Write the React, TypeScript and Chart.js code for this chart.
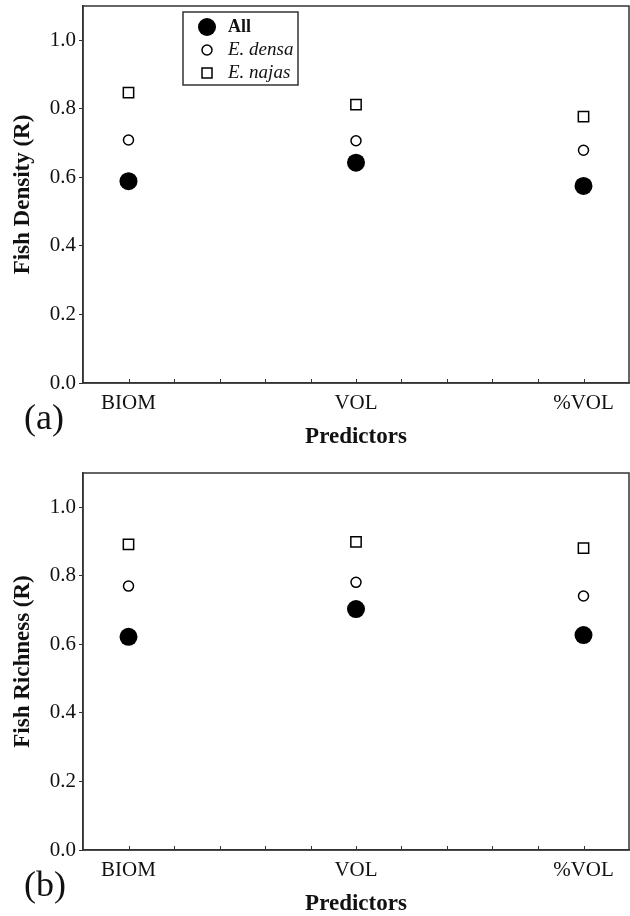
import React, { useEffect, useRef } from 'react';
import { Chart, registerables } from 'chart.js';

Chart.register(...registerables);

// ---- data ----
const categories = ['BIOM', 'VOL', '%VOL'];
const seriesNames = ['All', 'E. densa', 'E. najas'];
const densityAll = [0.589, 0.643, 0.575];
const densityDensa = [0.709, 0.707, 0.679];
const densityNajas = [0.847, 0.812, 0.777];
const richnessAll = [0.622, 0.703, 0.627];
const richnessDensa = [0.770, 0.781, 0.741];
const richnessNajas = [0.892, 0.899, 0.881];
const yTickValues = [0, 0.2, 0.4, 0.6, 0.8, 1.0];
const xMinorPerCategory = 5;

const SERIF = "'Liberation Serif', 'Times New Roman', serif";
const INK = '#111111';
const AXIS = '#333333';
const W = 630;
const H = 458;

type PanelOpts = {
  all: number[];
  densa: number[];
  najas: number[];
  yTitle: string;
  panelLabel: string;
  top: number;
  bottom: number;
  legend: boolean;
};

function xMinorTicks(): number[] {
  const out: number[] = [];
  const n = (categories.length - 1) * xMinorPerCategory;
  for (let i = 0; i <= n; i++) out.push(i / xMinorPerCategory);
  return out;
}

function toPoints(vals: number[]) {
  return categories.map((_, i) => ({ x: i, y: vals[i] }));
}

function makeConfig(o: PanelOpts): any {
  const overlay = {
    id: 'overlay' + o.panelLabel,
    afterDraw(chart: any) {
      const ctx = chart.ctx;
      const a = chart.chartArea;
      const xs = chart.scales.x;
      ctx.save();
      // frame
      ctx.strokeStyle = AXIS;
      ctx.lineWidth = 1.5;
      ctx.strokeRect(a.left, a.top, a.right - a.left, a.bottom - a.top);
      // inward x minor ticks
      ctx.lineWidth = 1;
      ctx.strokeStyle = AXIS;
      ctx.beginPath();
      xMinorTicks().forEach((v) => {
        const px = Math.round(xs.getPixelForValue(v)) + 0.5;
        ctx.moveTo(px, a.bottom);
        ctx.lineTo(px, a.bottom - 4);
      });
      ctx.stroke();
      // y title
      ctx.fillStyle = INK;
      ctx.font = `bold 23px ${SERIF}`;
      ctx.textAlign = 'center';
      ctx.textBaseline = 'middle';
      ctx.save();
      ctx.translate(23, (a.top + a.bottom) / 2);
      ctx.rotate(-Math.PI / 2);
      ctx.fillText(o.yTitle, 0, 0);
      ctx.restore();
      // x title
      ctx.font = `bold 23px ${SERIF}`;
      ctx.fillText('Predictors', (a.left + a.right) / 2, a.bottom + 54);
      // panel label
      ctx.font = `36px ${SERIF}`;
      ctx.textAlign = 'left';
      ctx.fillText(o.panelLabel, 24, a.bottom + 37);
      // legend
      if (o.legend) {
        const lx = a.left + 100;
        const ly = a.top + 6;
        const lw = 115;
        const lh = 73;
        ctx.fillStyle = '#ffffff';
        ctx.fillRect(lx, ly, lw, lh);
        ctx.strokeStyle = AXIS;
        ctx.lineWidth = 1.5;
        ctx.strokeRect(lx, ly, lw, lh);
        const mx = lx + 24;
        const tx = lx + 45;
        const rows = [ly + 15, ly + 38, ly + 61];
        // All
        ctx.fillStyle = '#000';
        ctx.beginPath();
        ctx.arc(mx, rows[0], 9, 0, Math.PI * 2);
        ctx.fill();
        // densa
        ctx.beginPath();
        ctx.arc(mx, rows[1], 5, 0, Math.PI * 2);
        ctx.fillStyle = '#fff';
        ctx.fill();
        ctx.strokeStyle = '#000';
        ctx.lineWidth = 1.5;
        ctx.stroke();
        // najas
        ctx.fillStyle = '#fff';
        ctx.fillRect(mx - 5, rows[2] - 5, 10, 10);
        ctx.strokeRect(mx - 5, rows[2] - 5, 10, 10);
        ctx.fillStyle = INK;
        ctx.textAlign = 'left';
        ctx.textBaseline = 'middle';
        ctx.font = `bold 18px ${SERIF}`;
        ctx.fillText(seriesNames[0], tx, rows[0]);
        ctx.font = `italic 19px ${SERIF}`;
        ctx.fillText(seriesNames[1], tx, rows[1]);
        ctx.fillText(seriesNames[2], tx, rows[2]);
      }
      ctx.restore();
    },
  };

  return {
    type: 'scatter',
    data: {
      datasets: [
        {
          label: seriesNames[0],
          data: toPoints(o.all),
          pointStyle: 'circle',
          pointRadius: 9,
          pointBackgroundColor: '#000',
          pointBorderColor: '#000',
          pointBorderWidth: 0,
          showLine: false,
        },
        {
          label: seriesNames[1],
          data: toPoints(o.densa),
          pointStyle: 'circle',
          pointRadius: 5,
          pointBackgroundColor: '#fff',
          pointBorderColor: '#000',
          pointBorderWidth: 1.5,
          showLine: false,
        },
        {
          label: seriesNames[2],
          data: toPoints(o.najas),
          pointStyle: 'rect',
          pointRadius: 7.3,
          pointBackgroundColor: '#fff',
          pointBorderColor: '#000',
          pointBorderWidth: 1.5,
          showLine: false,
        },
      ],
    },
    options: {
      responsive: false,
      animation: false,
      devicePixelRatio: 1,
      layout: { autoPadding: false, padding: { top: o.top, right: 1, left: 0, bottom: 0 } },
      plugins: {
        legend: { display: false },
        tooltip: { enabled: false },
        title: { display: false },
      },
      scales: {
        x: {
          type: 'linear',
          min: -0.2,
          max: categories.length - 1 + 0.2,
          grid: { display: false },
          border: { display: true, color: AXIS, width: 1.5 },
          afterBuildTicks: (s: any) => {
            s.ticks = xMinorTicks().map((v) => ({ value: v }));
          },
          afterFit: (s: any) => {
            s.height = H - o.bottom;
            s.paddingLeft = 0;
            s.paddingRight = 0;
          },
          ticks: {
            autoSkip: false,
            maxRotation: 0,
            padding: 0,
            color: INK,
            font: { family: SERIF, size: 21 },
            callback: (v: any) => {
              const r = Math.round(v);
              return Math.abs(v - r) < 1e-6 ? categories[r] : '';
            },
          },
        },
        y: {
          type: 'linear',
          min: 0,
          max: 1.1,
          grid: {
            display: true,
            drawOnChartArea: false,
            drawTicks: true,
            tickLength: 4,
            color: AXIS,
          },
          border: { display: true, color: AXIS, width: 1.5 },
          afterBuildTicks: (s: any) => {
            s.ticks = yTickValues.map((v) => ({ value: v }));
          },
          afterFit: (s: any) => {
            s.width = 83;
            s.paddingTop = 0;
            s.paddingBottom = 0;
          },
          ticks: {
            padding: 3,
            color: INK,
            font: { family: SERIF, size: 21 },
            callback: (v: any) => Number(v).toFixed(1),
          },
        },
      },
    },
    plugins: [overlay],
  };
}

function Panel(props: PanelOpts) {
  const ref = useRef<HTMLCanvasElement | null>(null);
  useEffect(() => {
    if (!ref.current) return;
    const chart = new Chart(ref.current, makeConfig(props));
    return () => chart.destroy();
  }, []);
  return <canvas ref={ref} width={W} height={H} style={{ display: 'block', width: W, height: H }} />;
}

export default function App() {
  useEffect(() => {
    document.body.style.margin = '0';
    document.body.style.background = '#fff';
  }, []);
  return (
    <div style={{ width: W, height: 916, background: '#fff', overflow: 'hidden' }}>
      <Panel
        all={densityAll}
        densa={densityDensa}
        najas={densityNajas}
        yTitle="Fish Density (R)"
        panelLabel="(a)"
        top={6}
        bottom={383}
        legend={true}
      />
      <Panel
        all={richnessAll}
        densa={richnessDensa}
        najas={richnessNajas}
        yTitle="Fish Richness (R)"
        panelLabel="(b)"
        top={15}
        bottom={392}
        legend={false}
      />
    </div>
  );
}
